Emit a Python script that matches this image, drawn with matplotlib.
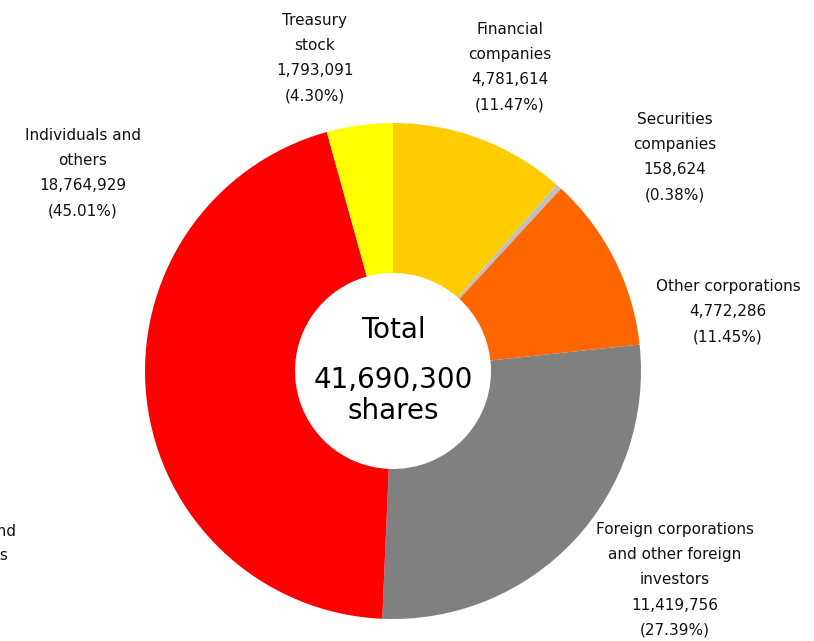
import matplotlib.pyplot as plt

# Shareholder composition (clockwise from 12 o'clock)
categories = ["Financial\ncompanies", "Securities\ncompanies", "Other corporations",
              "Foreign corporations\nand other foreign\ninvestors", "Individuals and\nothers",
              "Treasury\nstock"]
shares = [4781614, 158624, 4772286, 11419756, 18764929, 1793091]
percents = ["11.47%", "0.38%", "11.45%", "27.39%", "45.01%", "4.30%"]
colors = ["#FFCC00", "#C0C0C0", "#FF6600", "#808080", "#FF0000", "#FFFF00"]

# label anchor (pixel coords from top-left, centre of text block)
label_pos = [(510, 67), (675, 157), (728, 312), (675, 580), (83, 173), (315, 58)]

W, H = 814, 641
fig = plt.figure(figsize=(W / 100, H / 100), dpi=100)
ax = fig.add_axes([0, 0, 1, 1])

cx, cy, r = 393, 371, 248
ax.pie(shares, colors=colors, startangle=90, counterclock=False,
       center=(cx, H - cy), radius=r, frame=True,
       wedgeprops=dict(width=r - 98, linewidth=0))
ax.set_xlim(0, W)
ax.set_ylim(0, H)
ax.set_aspect("equal")
ax.axis("off")

for cat, val, pct, (x, y) in zip(categories, shares, percents, label_pos):
    ax.text(x, H - y, f"{cat}\n{val:,}\n({pct})", ha="center", va="center",
            fontsize=11, linespacing=1.84, color="#111111")

# leftover label clipped at the left edge (as in the source image)
ax.text(16, H - 531, "Individuals and", ha="right", va="center",
        fontsize=11, color="#111111")
ax.text(8, H - 556, "others", ha="right", va="center",
        fontsize=11, color="#111111")

ax.text(cx, H - 330, "Total", ha="center", va="center", fontsize=20)
ax.text(cx, H - 380, "41,690,300", ha="center", va="center", fontsize=20)
ax.text(cx, H - 411, "shares", ha="center", va="center", fontsize=20)

plt.savefig("out.png", dpi=100)
